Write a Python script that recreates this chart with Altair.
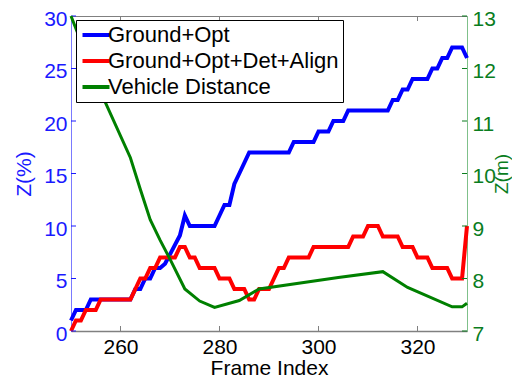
import altair as alt
import pandas as pd

# ---------------- data ----------------
frames = list(range(250, 331))

ground_opt = [
    1, 2, 2, 2, 3, 3, 3, 3, 3, 3,          # 250-259
    3, 3, 3, 4, 4, 5, 5, 6, 6, 6.4,        # 260-269
    7.3, 8.2, 9.1, 11, 10, 10, 10, 10, 10, 10,  # 270-279
    11, 12, 12, 14, 15, 16, 17, 17, 17, 17,     # 280-289
    17, 17, 17, 17, 17, 18, 18, 18, 18, 18,     # 290-299
    19, 19, 19, 20, 20, 20, 21, 21, 21, 21,     # 300-309
    21, 21, 21, 21, 21, 22, 22, 23, 23, 24,     # 310-319
    24, 24, 24, 25, 25, 26, 26, 27, 27, 27,     # 320-329
    26,                                          # 330
]

ground_opt_det_align = [
    0, 1, 1, 2, 2, 2, 3, 3, 3, 3,          # 250-259
    3, 3, 3, 4, 5, 5, 6, 6, 7, 7,          # 260-269
    7, 7, 8, 8, 7, 7, 6, 6, 6, 6,          # 270-279
    5, 5, 5, 4, 4, 4, 3, 3, 4, 4,          # 280-289
    4, 5, 6, 6, 7, 7, 7, 7, 7, 8,          # 290-299
    8, 8, 8, 8, 8, 8, 8, 9, 9, 9,          # 300-309
    10, 10, 10, 9, 9, 9, 9, 8, 8, 8,       # 310-319
    7, 7, 7, 6, 6, 6, 6, 5, 5, 5,          # 320-329
    10,                                     # 330
]

veh_frames = [250, 256, 262, 264, 266, 268, 270, 273, 276, 279,
              284, 288, 304, 313, 318, 327, 329, 330]
veh_dist = [13.0, 11.55, 10.3, 9.7, 9.12, 8.73, 8.37, 7.8, 7.57, 7.45,
            7.58, 7.8, 8.02, 8.13, 7.83, 7.46, 7.46, 7.53]

x_ticks = [260, 280, 300, 320]
left_ticks = [0, 5, 10, 15, 20, 25, 30]
right_ticks = [7, 8, 9, 10, 11, 12, 13]

names = ["Ground+Opt", "Ground+Opt+Det+Align", "Vehicle Distance"]
colors = ["#0000ff", "#ff0000", "#008000"]

# ---------------- chart ----------------
W, H = 396, 315
FONT = "Liberation Sans"
FS = 21
BLUE, GREEN, GRAY = "#1a1aff", "#0a7d1e", "#808080"

df_pct = pd.DataFrame({
    "frame": frames + frames,
    "z": ground_opt + ground_opt_det_align,
    "series": [names[0]] * len(frames) + [names[1]] * len(frames),
})
df_m = pd.DataFrame({"frame": veh_frames, "z": veh_dist, "series": names[2]})
df_xt = pd.DataFrame({"frame": x_ticks})
df_lt = pd.DataFrame({"z": left_ticks})
df_rt = pd.DataFrame({"z": right_ticks})

xscale = alt.Scale(domain=[250, 330], nice=False, zero=False)
lscale = alt.Scale(domain=[0, 30], nice=False)
rscale = alt.Scale(domain=[7, 13], nice=False, zero=False)

color = alt.Color(
    "series:N",
    scale=alt.Scale(domain=names, range=colors),
    legend=alt.Legend(
        title=None,
        orient="none",
        legendX=5,
        legendY=4,
        direction="vertical",
        strokeColor="black",
        fillColor="white",
        padding=4,
        symbolType="M-1.5,0H1.5",
        symbolSize=324,
        symbolStrokeWidth=4,
        symbolOffset=5,
        rowPadding=4,
        labelOffset=1,
        labelFont=FONT,
        labelFontSize=22,
        labelColor="black",
        labelLimit=400,
    ),
)

x_axis = alt.Axis(
    values=x_ticks, title="Frame Index", ticks=False, grid=False,
    labelFont=FONT, labelFontSize=FS, labelColor="black", labelPadding=5,
    titleFont=FONT, titleFontSize=FS, titleColor="black", titleFontWeight="normal",
    titlePadding=0, domainColor=GRAY, domainWidth=1.5,
)
l_axis = alt.Axis(
    orient="left", values=left_ticks, title="Z(%)", ticks=False, grid=False,
    labelFont=FONT, labelFontSize=FS, labelColor=BLUE, labelPadding=4, labelOffset=3,
    titleFont=FONT, titleFontSize=FS, titleColor=BLUE, titleFontWeight="normal",
    titlePadding=9, domainColor="#7a7aff", domainWidth=1,
)
r_axis = alt.Axis(
    orient="right", values=right_ticks, title="Z(m)", ticks=False, grid=False,
    labelFont=FONT, labelFontSize=FS, labelColor=GREEN, labelPadding=5, labelOffset=3,
    titleFont=FONT, titleFontSize=19, titleColor=GREEN, titleFontWeight="normal",
    titlePadding=-3, titleAngle=270, titleBaseline="top",
    domainColor="#7fc08a", domainWidth=1,
)

X = alt.X("frame:Q", scale=xscale, axis=x_axis)
YL = alt.Y("z:Q", scale=lscale, axis=l_axis)
YR = alt.Y("z:Q", scale=rscale, axis=r_axis)

pct_lines = alt.Chart(df_pct).mark_line(strokeWidth=4).encode(x=X, y=YL, color=color)

xt_bottom = alt.Chart(df_xt).mark_rule(color=GRAY, strokeWidth=1).encode(
    x=X, y=alt.value(H), y2=alt.value(H - 5)
)
xt_top = alt.Chart(df_xt).mark_rule(color=GRAY, strokeWidth=1).encode(
    x=X, y=alt.value(0), y2=alt.value(5)
)
lt_rules = alt.Chart(df_lt).mark_rule(color=BLUE, strokeWidth=1).encode(
    y=YL, x=alt.value(0), x2=alt.value(5)
)

green_line = alt.Chart(df_m).mark_line(strokeWidth=3).encode(x=X, y=YR, color=color)
rt_rules = alt.Chart(df_rt).mark_rule(color=GREEN, strokeWidth=1).encode(
    y=YR, x=alt.value(W - 5), x2=alt.value(W)
)

left = alt.layer(pct_lines, xt_bottom, xt_top, lt_rules)
right = alt.layer(green_line, rt_rules)

chart = (
    alt.layer(left, right)
    .resolve_scale(y="independent")
    .properties(
        width=W, height=H,
        padding={"left": 63, "top": 8, "right": 45, "bottom": 46},
        autosize=alt.AutoSizeParams(type="none"),
        background="white",
    )
    .configure_view(stroke=GRAY, strokeWidth=1)
)

chart.save("out.html", embed_options={"renderer": "svg", "actions": False})
